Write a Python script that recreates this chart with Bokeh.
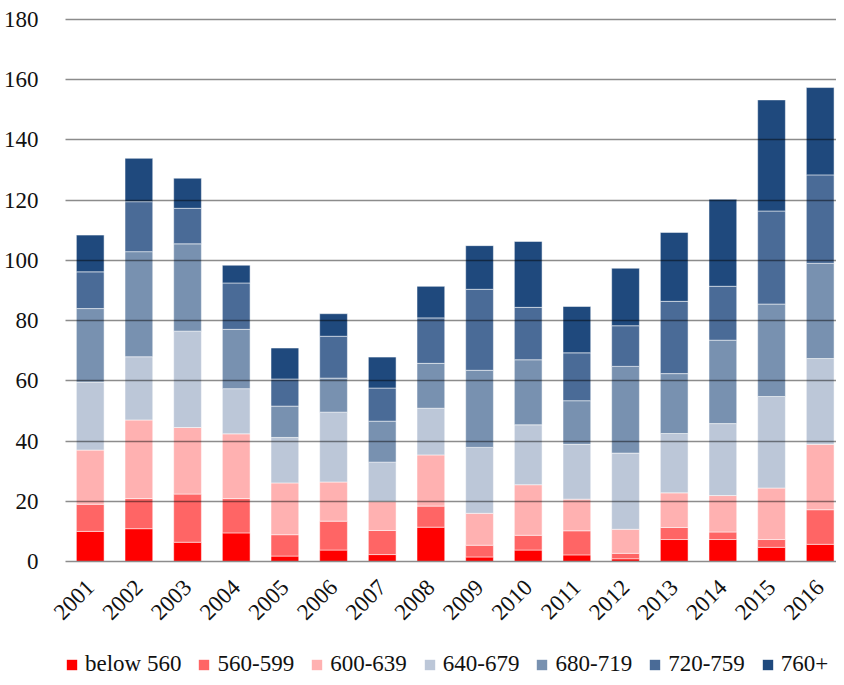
from bokeh.plotting import figure
from bokeh.layouts import column
from bokeh.models import Range1d, FixedTicker, Legend, LegendItem, ColumnDataSource
from bokeh.embed import file_html
from bokeh.resources import INLINE
import math

years = ["2001", "2002", "2003", "2004", "2005", "2006", "2007", "2008",
         "2009", "2010", "2011", "2012", "2013", "2014", "2015", "2016"]
series_names = ["below 560", "560-599", "600-639", "640-679", "680-719", "720-759", "760+"]

below_560 = [10, 10.9, 6.4, 9.5, 1.8, 3.8, 2.3, 11.4, 1.5, 3.8, 2.2, 0.9, 7.3, 7.3, 4.7, 5.7]
s560_599 = [9, 10, 16, 11.4, 7.1, 9.6, 8, 7, 3.9, 4.9, 8, 1.8, 4, 2.5, 2.6, 11.5]
s600_639 = [18, 26.1, 22.1, 21.5, 17.2, 13, 9.6, 17, 10.6, 16.8, 10.5, 8, 11.5, 12.1, 17.1, 21.7]
s640_679 = [22.6, 21, 32, 15, 15.1, 23.2, 13.1, 15.5, 21.9, 19.9, 18.2, 25.3, 19.7, 23.9, 30.4, 28.5]
s680_719 = [24.4, 34.9, 29, 19.7, 10.4, 11.3, 13.6, 14.9, 25.6, 21.6, 14.5, 28.8, 19.9, 27.7, 30.7, 31.6]
s720_759 = [12.2, 16.6, 11.8, 15.4, 9, 13.9, 11, 15.1, 26.9, 17.4, 15.9, 13.5, 24, 17.9, 30.9, 29.4]
s760_plus = [12.2, 14.4, 10, 5.9, 10.3, 7.5, 10.3, 10.5, 14.5, 21.9, 15.4, 19.1, 22.9, 28.9, 36.9, 29]

y_ticks = [0, 20, 40, 60, 80, 100, 120, 140, 160, 180]

colors = ["#FF0000", "#FF6565", "#FFB1B1", "#BCC7D8", "#7891B0", "#4A6B97", "#1F497D"]

x = [int(y) for y in years]
keys = ["a", "b", "c", "d", "e", "f", "g"]
src = ColumnDataSource(dict(x=x, a=below_560, b=s560_599, c=s600_639, d=s640_679,
                            e=s680_719, f=s720_759, g=s760_plus))

font = "Liberation Serif"

p = figure(width=836, height=651, output_backend="svg", toolbar_location=None,
           x_range=Range1d(2000.492, 2016.335), y_range=Range1d(0, 181),
           min_border_left=57, min_border_right=0, min_border_top=16, min_border_bottom=90)
p.outline_line_color = None

renderers = p.vbar_stack(keys, x="x", width=0.57, source=src, color=colors,
                         line_color="white", line_alpha=0.5, line_width=1)

# y axis
p.yaxis.ticker = FixedTicker(ticks=y_ticks)
p.yaxis.axis_line_color = None
p.yaxis.major_tick_line_color = None
p.yaxis.minor_tick_line_color = None
p.yaxis.major_label_text_font = font
p.yaxis.major_label_text_font_size = "23px"
p.yaxis.major_label_text_color = "#111111"
p.yaxis.major_label_standoff = 21

# x axis
p.xaxis.ticker = FixedTicker(ticks=x)
p.xaxis.major_label_overrides = {xi: yl for xi, yl in zip(x, years)}
p.xaxis.axis_line_color = "#8c8c8c"
p.xaxis.axis_line_width = 1.5
p.xaxis.major_tick_line_color = None
p.xaxis.minor_tick_line_color = None
p.xaxis.major_label_text_font = font
p.xaxis.major_label_text_font_size = "23px"
p.xaxis.major_label_text_color = "#111111"
p.xaxis.major_label_orientation = math.pi / 4
p.xaxis.major_label_standoff = 16

p.xgrid.grid_line_color = None
p.ygrid.ticker = FixedTicker(ticks=y_ticks)
p.ygrid.grid_line_color = "black"
p.ygrid.grid_line_alpha = 0.45
p.ygrid.grid_line_width = 1.5
p.ygrid.level = "overlay"

# legend strip: a second figure whose only content is the legend
lg = figure(width=836, height=26, output_backend="svg", toolbar_location=None,
            x_axis_location=None, y_axis_location=None,
            x_range=Range1d(0, 1), y_range=Range1d(0, 1),
            min_border_left=0, min_border_right=0, min_border_top=0, min_border_bottom=0)
lg.outline_line_color = None
lg.xgrid.visible = False
lg.ygrid.visible = False
# legend swatch proxies, kept below the strip's visible range
proxies = [lg.vbar(x=[0.5], bottom=[-3], top=[-2], width=0.1, fill_color=c, line_color=None)
           for c in colors]
items = [LegendItem(label=n, renderers=[r]) for n, r in zip(series_names, proxies)]
legend = Legend(items=items, orientation="horizontal", location=(0, 0), ncols=7,
                glyph_width=13, glyph_height=13, label_standoff=7, spacing=16,
                padding=0, margin=0, border_line_color=None, background_fill_alpha=0,
                label_text_font=font, label_text_font_size="23px", label_text_color="#111111")
lg.add_layout(legend, "center")

layout = column(p, lg, spacing=0)
open("out.html", "w").write(file_html(layout, INLINE))
